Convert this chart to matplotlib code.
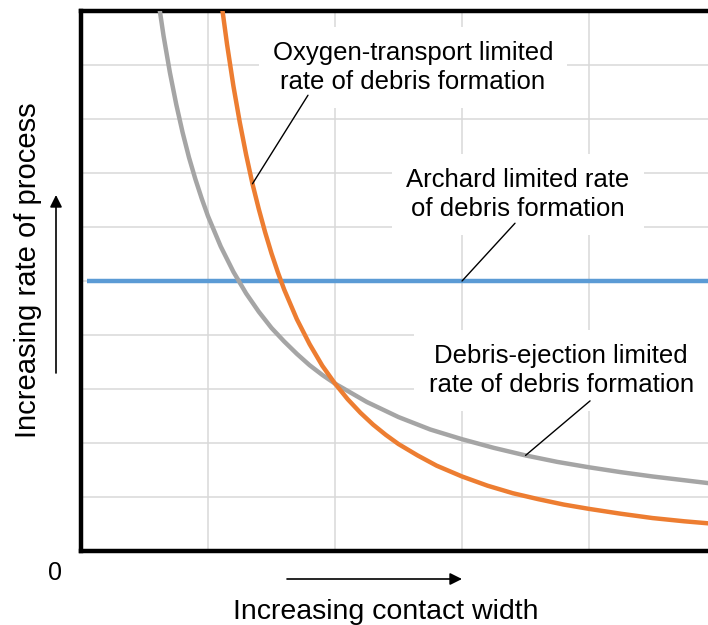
import matplotlib.pyplot as plt
from matplotlib.patches import FancyArrowPatch

plt.rcParams['font.family'] = ['Liberation Sans', 'DejaVu Sans']

# Archard limited rate (constant)
archard_x = [0.05, 5.0]
archard_y = [5.0, 5.0]

# Debris-ejection limited rate
eject_x = [0.60, 0.65, 0.70, 0.75, 0.80, 0.85, 0.90, 0.95, 1.00, 1.10, 1.20, 1.30,
           1.40, 1.50, 1.60, 1.70, 1.80, 1.90, 2.00, 2.25, 2.50, 2.75, 3.00, 3.25,
           3.50, 3.75, 4.00, 4.25, 4.50, 4.75, 5.00]
eject_y = [10.33, 9.54, 8.86, 8.27, 7.75, 7.29, 6.89, 6.53, 6.20, 5.64, 5.17, 4.77,
           4.43, 4.13, 3.88, 3.65, 3.44, 3.26, 3.10, 2.76, 2.48, 2.25, 2.07, 1.91,
           1.77, 1.65, 1.55, 1.46, 1.38, 1.31, 1.24]

# Oxygen-transport limited rate
oxy_x = [1.10, 1.15, 1.20, 1.25, 1.30, 1.35, 1.40, 1.45, 1.50, 1.55, 1.60, 1.70,
         1.80, 1.90, 2.00, 2.10, 2.20, 2.30, 2.40, 2.50, 2.65, 2.80, 3.00, 3.20,
         3.40, 3.60, 3.80, 4.00, 4.25, 4.50, 4.75, 5.00]
oxy_y = [10.25, 9.38, 8.61, 7.94, 7.34, 6.80, 6.33, 5.90, 5.51, 5.16, 4.84, 4.29,
         3.83, 3.43, 3.10, 2.81, 2.56, 2.34, 2.15, 1.98, 1.77, 1.58, 1.38, 1.21,
         1.07, 0.96, 0.86, 0.78, 0.69, 0.61, 0.55, 0.50]

fig = plt.figure(figsize=(7.08, 6.25), dpi=100)
ax = fig.add_axes([0.1144, 0.1184, 0.897, 0.864])

ax.plot(archard_x, archard_y, color='#5B9BD5', lw=3.2, solid_capstyle='butt', zorder=3)
ax.plot(eject_x, eject_y, color='#A5A5A5', lw=3.2, solid_joinstyle='round', zorder=3)
ax.plot(oxy_x, oxy_y, color='#ED7D31', lw=3.2, solid_joinstyle='round', zorder=3)

ax.set_xlim(0, 5)
ax.set_ylim(0, 10)
ax.set_xticks(range(0, 6))
ax.set_yticks(range(0, 11))
ax.tick_params(length=0, labelbottom=False, labelleft=False)
ax.grid(True, color='#D9D9D9', lw=1.1)
ax.set_axisbelow(True)
for side in ['left', 'top', 'bottom', 'right']:
    ax.spines[side].set_linewidth(3.2)
    ax.spines[side].set_color('black')

box = dict(boxstyle='square,pad=0.55', facecolor='white', edgecolor='none')
lab = dict(fontsize=18.5, ha='center', va='center', linespacing=1.26, zorder=4, bbox=box)
ax.text(2.614, 8.96, 'Oxygen-transport limited\nrate of debris formation', **lab)
ax.text(3.44, 6.6, 'Archard limited rate\nof debris formation', **lab)
ax.text(3.78, 3.34, 'Debris-ejection limited\nrate of debris formation', **lab)

# leader lines from the labels to their curves
leader = dict(arrowstyle='-', color='black', lw=1.0, shrinkA=0, shrinkB=0)
i_oxy = oxy_x.index(1.35)
i_ej = eject_x.index(3.50)
ax.annotate('', xy=(oxy_x[i_oxy], oxy_y[i_oxy]), xytext=(1.787, 8.44), arrowprops=leader, zorder=5)
ax.annotate('', xy=(3.0, archard_y[0]), xytext=(3.417, 6.07), arrowprops=leader, zorder=5)
ax.annotate('', xy=(eject_x[i_ej], eject_y[i_ej]), xytext=(4.008, 2.78), arrowprops=leader, zorder=5)

# axis captions and direction arrows
fig.text(0.0777, 0.0832, '0', fontsize=18, ha='center', va='center')
fig.text(0.545, 0.0208, 'Increasing contact width', fontsize=20.5, ha='center', va='center')
fig.text(0.04, 0.568, 'Increasing rate of process', fontsize=21, ha='center', va='center',
         rotation=90)
arrow = dict(arrowstyle='-|>', color='black', lw=1.2, mutation_scale=18, shrinkA=0, shrinkB=0)
fig.add_artist(FancyArrowPatch((287 / 708, 1 - 579 / 625), (462 / 708, 1 - 579 / 625),
                               transform=fig.transFigure, **arrow))
fig.add_artist(FancyArrowPatch((56 / 708, 1 - 373 / 625), (56 / 708, 1 - 195 / 625),
                               transform=fig.transFigure, **arrow))

fig.savefig('out.png', dpi=100)
